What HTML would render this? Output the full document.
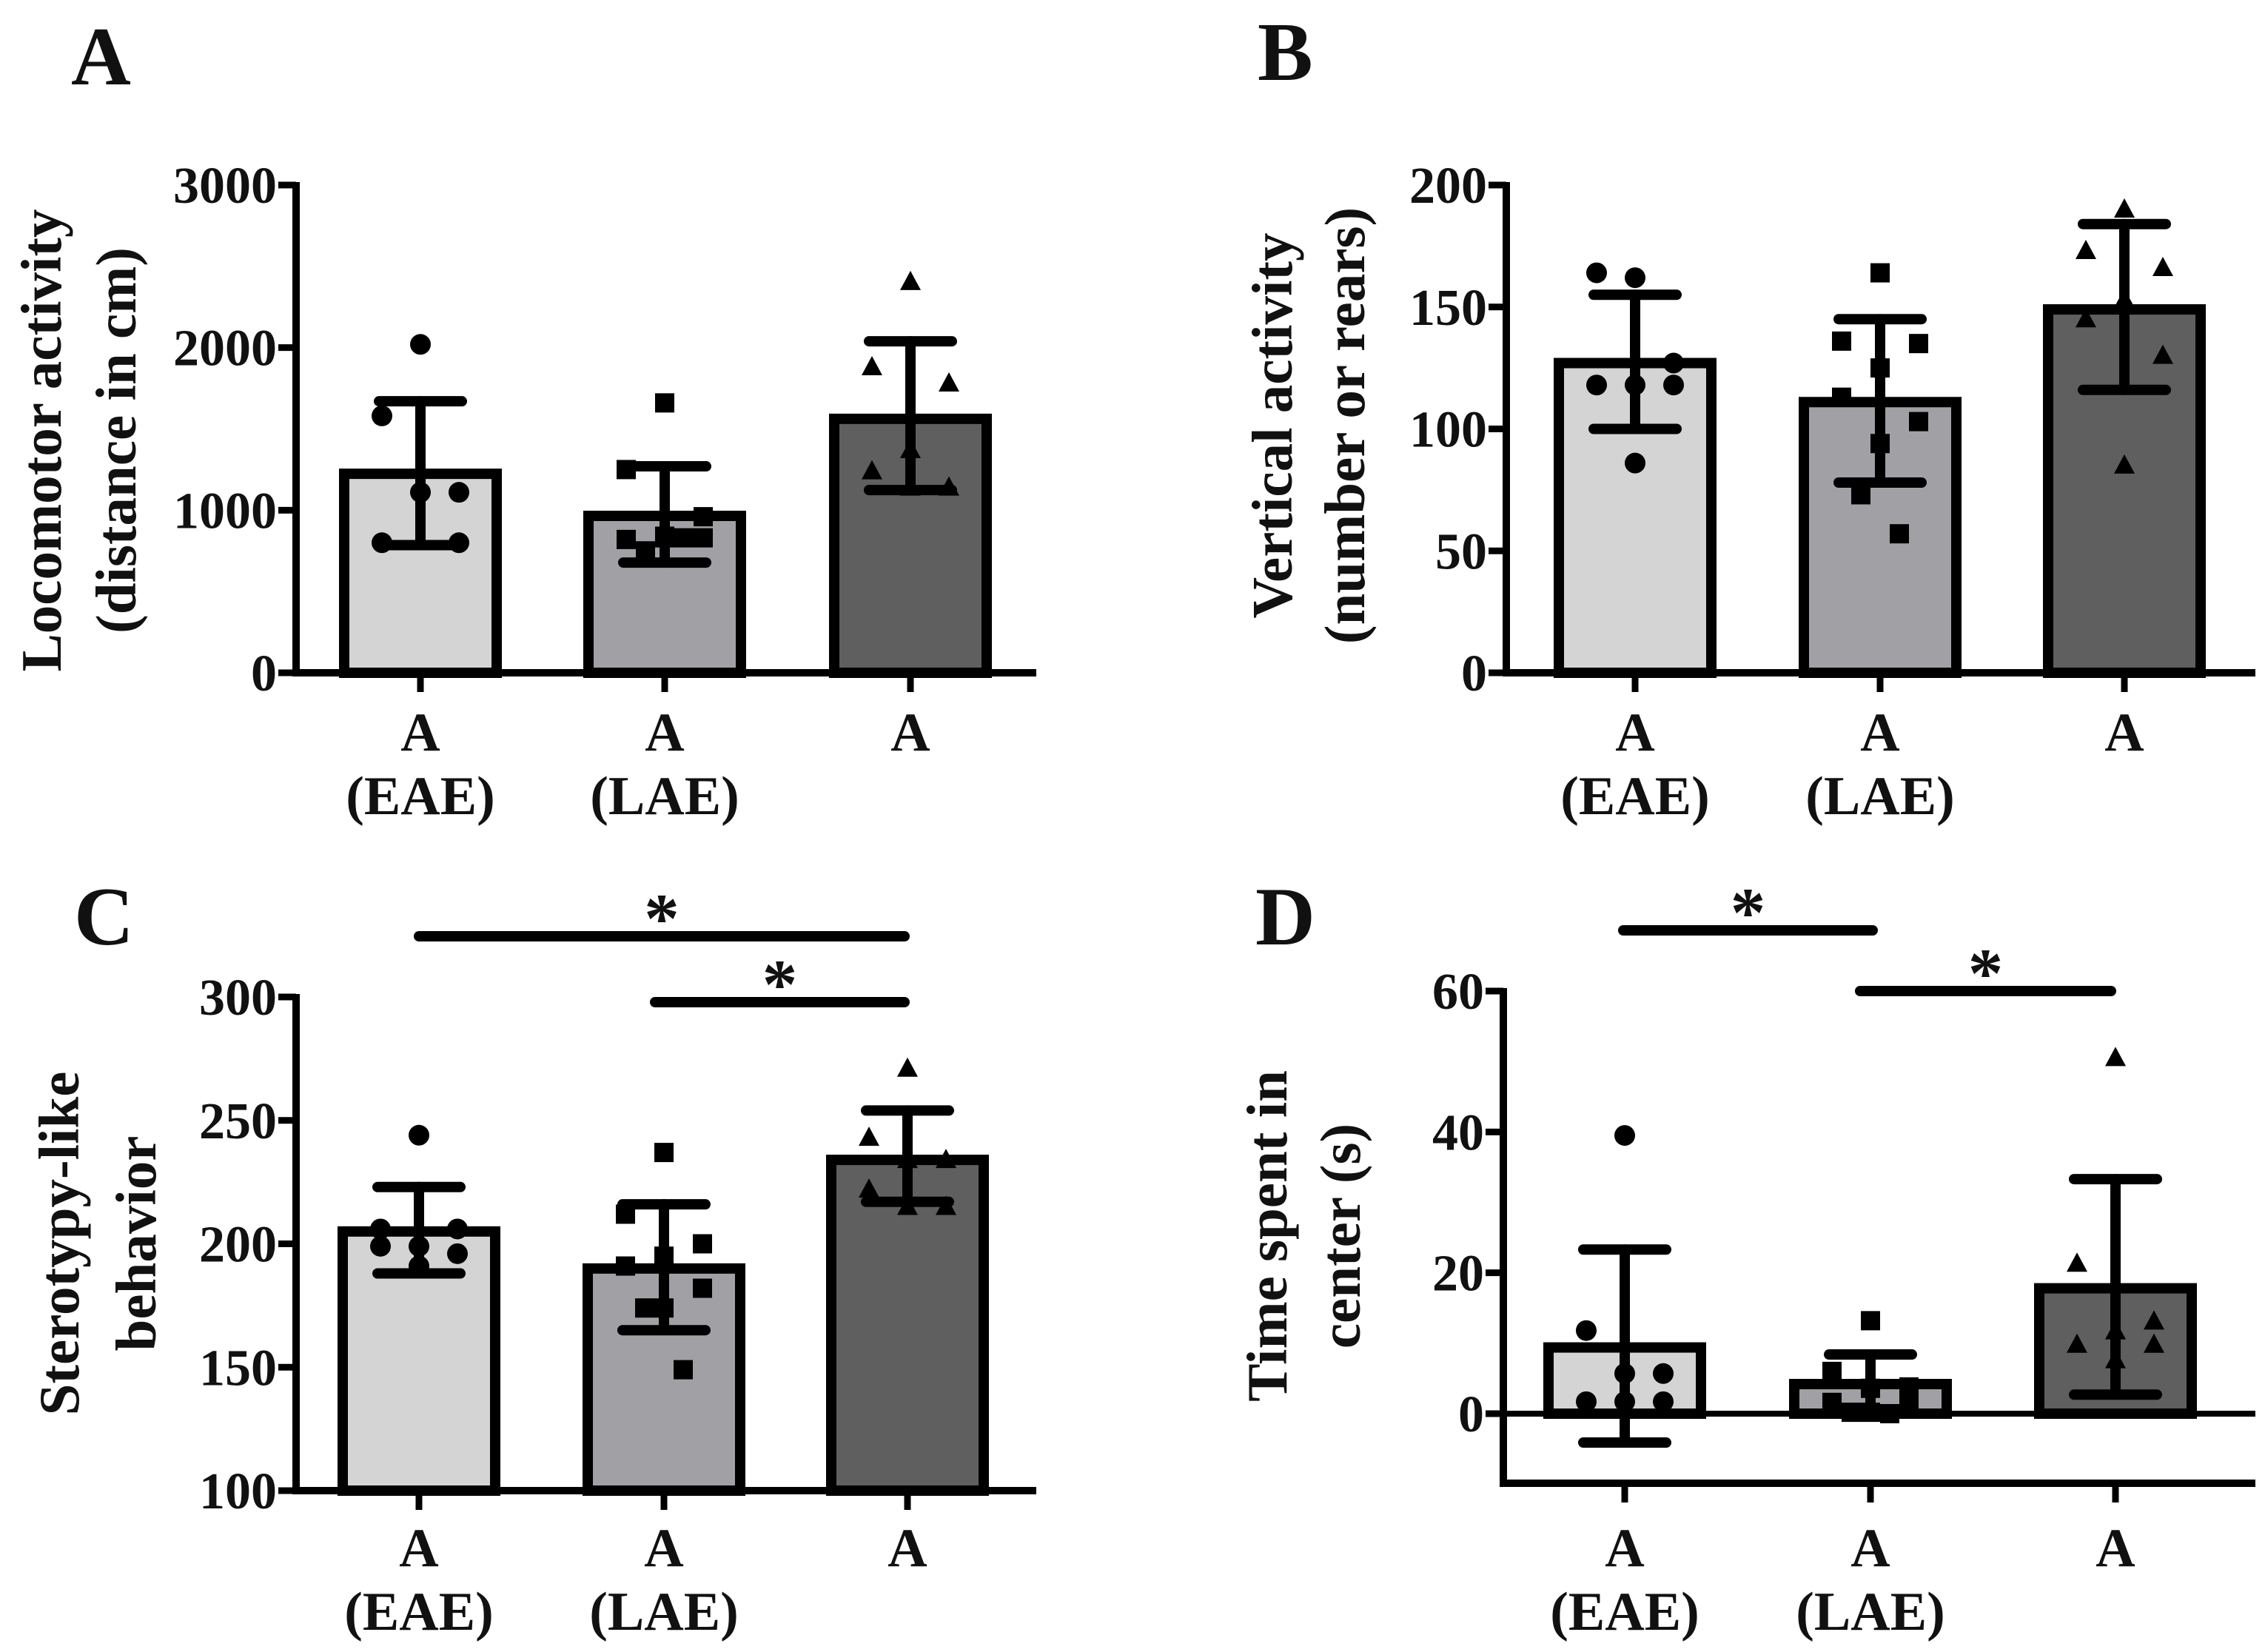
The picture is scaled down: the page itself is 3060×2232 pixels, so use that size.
<!DOCTYPE html>
<html><head><meta charset="utf-8"><style>
html,body{margin:0;padding:0;background:#fff;}
svg{display:block;}
text{font-family:"Liberation Serif",serif;font-weight:bold;fill:#111;}
</style></head><body>
<svg id="fig" width="3060" height="2232" viewBox="0 0 3060 2232" xmlns="http://www.w3.org/2000/svg"></svg>
<script>
const categories = ["A|(EAE)", "A|(LAE)", "A"];
// Panel A
const aMeans = [1224, 965, 1562];
const aErrHi = [1670, 1270, 2039];
const aErrLo = [785, 678, 1124];
const aPts0 = [2020, 1580, 1110, 1110, 800, 800];
const aPts1 = [1660, 1250, 960, 830, 820, 830, 840, 750, 830];
const aPts2 = [2404, 1880, 1780, 1370, 1240, 1140, 1140];
const aTicks = [0, 1000, 2000, 3000];
// Panel B
const bMeans = [127, 111, 149];
const bErrHi = [155, 145, 184];
const bErrLo = [100, 78, 116];
const bPts0 = [162, 164, 127, 118, 118, 118, 86];
const bPts1 = [164, 136, 135, 125, 113, 103, 94, 73, 57];
const bPts2 = [190, 173, 166, 153, 145, 130, 85];
const bTicks = [0, 50, 100, 150, 200];
// Panel C
const cMeans = [205, 190, 234];
const cErrHi = [223, 216, 254];
const cErrLo = [188, 165, 217];
const cPts0 = [244, 206, 206, 199, 199, 196, 191];
const cPts1 = [237, 212, 200, 195, 191, 182, 174, 174, 149];
const cPts2 = [271, 243, 234, 234, 222, 215, 215];
const cTicks = [100, 150, 200, 250, 300];
// Panel D
const dMeans = [9.4, 4.2, 17.8];
const dErrHi = [23.3, 8.4, 33.3];
const dErrLo = [-4.1, 0, 2.7];
const dPts0 = [39.5, 11.8, 5.7, 5.7, 1.7, 1.7, 1.7];
const dPts1 = [13.2, 6, 3.8, 3.6, 1.6, 1.5, 0.2, 0.2, 0];
const dPts2 = [50.5, 21.3, 13.1, 11.7, 9.8, 9.8, 7.6];
const dTicks = [0, 20, 40, 60];

const NS = "http://www.w3.org/2000/svg";
const svg = document.getElementById("fig");
const fills = ["#d4d4d4", "#a1a1a5", "#5f5f5f"];
const shapes = ["circle", "square", "triangle"];
const jit = [0, -52, 52, 0, -52, 52, 0, -26, 26];

function mk(tag, attrs, parent) {
  const e = document.createElementNS(NS, tag);
  for (const k in attrs) e.setAttribute(k, attrs[k]);
  (parent || svg).appendChild(e);
  return e;
}

function panel(cfg) {
  const g = mk("g", {});
  
  
  const y = v => cfg.y0 - (v - cfg.vmin) * (cfg.y0 - cfg.y1) / (cfg.vmax - cfg.vmin);
  const base = cfg.baseVal !== undefined ? cfg.baseVal : cfg.vmin;
  // bars
  cfg.means.forEach((m, i) => {
    const cx = cfg.centers[i];
    const r = mk("rect", {x: cx - 103, y: Math.min(y(m), y(base)), width: 206, height: Math.abs(y(base) - y(m)), fill: fills[i], stroke: "#000", "stroke-width": 14}, g);
    
    
  });
  // axes
  const ax = mk("line", {x1: cfg.ax, y1: cfg.y1 - 4, x2: cfg.ax, y2: cfg.axisBottom + 5, stroke: "#000", "stroke-width": 10}, g);
  
  
  const xa = mk("line", {x1: cfg.ax - 5, y1: cfg.axisBottom, x2: cfg.xEnd, y2: cfg.axisBottom, stroke: "#000", "stroke-width": 10}, g);
  
  
  if (cfg.zeroLine) {
    const zl = mk("line", {x1: cfg.ax, y1: y(0), x2: cfg.xEnd, y2: y(0), stroke: "#000", "stroke-width": 8}, g);
    
    
  }
  cfg.ticks.forEach(t => {
    const tl = mk("line", {x1: cfg.ax - 24, y1: y(t), x2: cfg.ax, y2: y(t), stroke: "#000", "stroke-width": 9}, g);
    
    
    const tx = mk("text", {x: cfg.ax - 26, y: y(t) + 24, "text-anchor": "end", "font-size": 70}, g);
    tx.textContent = t;
    
    
  });
  // category ticks + labels
  categories.forEach((c, i) => {
    const cx = cfg.centers[i];
    const tk = mk("line", {x1: cx, y1: cfg.axisBottom, x2: cx, y2: cfg.axisBottom + 26, stroke: "#000", "stroke-width": 9}, g);
    
    
    c.split("|").forEach((ln, j) => {
      const t = mk("text", {x: cx, y: cfg.labY + j * 86, "text-anchor": "middle", "font-size": 74}, g);
      t.textContent = ln;
      
      
    });
  });
  // points
  cfg.pts.forEach((arr, i) => {
    arr.forEach((v, k) => {
      const px = cfg.centers[i] + jit[k % jit.length], py = y(v);
      let e;
      if (shapes[i] === "circle") e = mk("circle", {cx: px, cy: py, r: 14, fill: "#000"}, g);
      else if (shapes[i] === "square") e = mk("rect", {x: px - 13, y: py - 13, width: 26, height: 26, fill: "#000"}, g);
      else e = mk("polygon", {points: `${px},${py - 15} ${px - 14},${py + 11} ${px + 14},${py + 11}`, fill: "#000"}, g);
      
      
    });
  });
  // error bars
  cfg.means.forEach((m, i) => {
    const cx = cfg.centers[i];
    const eg = mk("g", {stroke: "#000", "stroke-width": 14, "stroke-linecap": "round"}, g);
    
    
    mk("line", {x1: cx, y1: y(cfg.hi[i]), x2: cx, y2: y(cfg.lo[i])}, eg);
    mk("line", {x1: cx - 56, y1: y(cfg.hi[i]), x2: cx + 56, y2: y(cfg.hi[i])}, eg);
    mk("line", {x1: cx - 56, y1: y(cfg.lo[i]), x2: cx + 56, y2: y(cfg.lo[i])}, eg);
  });
  // y title
  cfg.title.forEach((ln, j) => {
    const t = mk("text", {transform: `translate(${cfg.titleX[j]},${cfg.titleCY}) rotate(-90)`, "text-anchor": "middle", "font-size": 77}, g);
    t.textContent = ln;
    
    
  });
  // panel letter
  const L = mk("text", {x: cfg.letter[1], y: cfg.letter[2], "font-size": 112}, g);
  L.textContent = cfg.letter[0];
  
  
  // significance
  (cfg.sig || []).forEach(s => {
    const l = mk("line", {x1: s[0], y1: s[2], x2: s[1], y2: s[2], stroke: "#000", "stroke-width": 14, "stroke-linecap": "round"}, g);
    
    
    const a = mk("text", {x: (s[0] + s[1]) / 2, y: s[2] + 8, "text-anchor": "middle", "font-size": 95}, g);
    a.textContent = "*";
    
    
  });
}

panel({name: "panel-a", ax: 400, xEnd: 1400, centers: [568, 898, 1230], vmin: 0, vmax: 3000, y0: 909, y1: 250, axisBottom: 909,
  means: aMeans, hi: aErrHi, lo: aErrLo, pts: [aPts0, aPts1, aPts2], ticks: aTicks, labY: 1014,
  title: ["Locomotor activity", "(distance in cm)"], titleX: [82, 183], titleCY: 595, letter: ["A", 96, 114]});
panel({name: "panel-b", ax: 2035, xEnd: 3047, centers: [2209, 2540, 2870], vmin: 0, vmax: 200, y0: 909, y1: 250, axisBottom: 909,
  means: bMeans, hi: bErrHi, lo: bErrLo, pts: [bPts0, bPts1, bPts2], ticks: bTicks, labY: 1014,
  title: ["Vertical activity", "(number or rears)"], titleX: [1745, 1843], titleCY: 575, letter: ["B", 1699, 108]});
panel({name: "panel-c", ax: 400, xEnd: 1400, centers: [566, 897, 1226], vmin: 100, vmax: 300, y0: 2014, y1: 1347, axisBottom: 2014,
  means: cMeans, hi: cErrHi, lo: cErrLo, pts: [cPts0, cPts1, cPts2], ticks: cTicks, labY: 2116,
  title: ["Sterotypy-like", "behavior"], titleX: [106, 210], titleCY: 1680, letter: ["C", 100, 1276],
  sig: [[566, 1222, 1265], [885, 1222, 1354]]});
panel({name: "panel-d", ax: 2031, xEnd: 3047, centers: [2195, 2527, 2858], vmin: 0, vmax: 60, y0: 1910, y1: 1339, axisBottom: 2004, baseVal: 0, zeroLine: true,
  means: dMeans, hi: dErrHi, lo: dErrLo, pts: [dPts0, dPts1, dPts2], ticks: dTicks, labY: 2116,
  title: ["Time spent in", "center (s)"], titleX: [1738, 1837], titleCY: 1670, letter: ["D", 1696, 1276],
  sig: [[2193, 2530, 1257], [2513, 2852, 1339]]});
</script>
</body></html>
